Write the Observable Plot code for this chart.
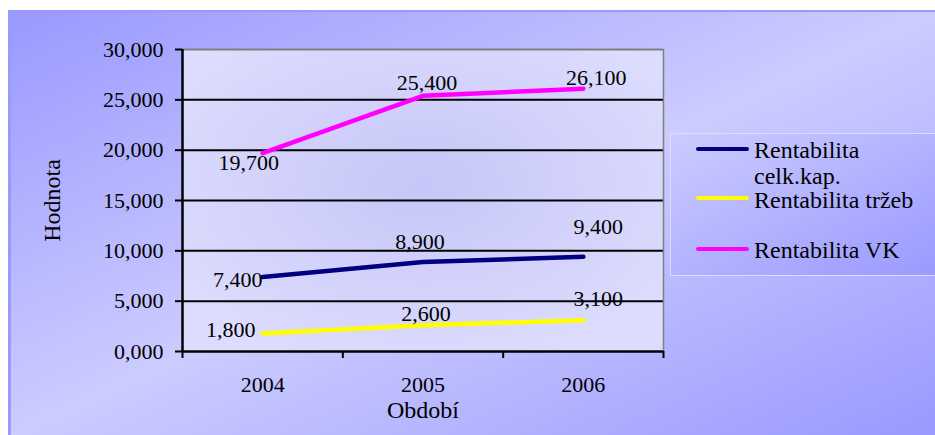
<!DOCTYPE html>
<html><head><meta charset="utf-8">
<script src="https://cdn.jsdelivr.net/npm/d3@7"></script>
<script src="https://cdn.jsdelivr.net/npm/@observablehq/plot@0.6"></script>
<style>
html,body{margin:0;padding:0;background:#fff;}
#wrap{position:relative;width:935px;height:435px;overflow:hidden;font-family:"Liberation Serif","Times New Roman",Tinos,"DejaVu Serif",serif;color:#000;}
#bg{position:absolute;left:8px;top:10px;right:0;bottom:0;background:linear-gradient(to bottom right,#9999ff 0%,#ccccff 50%,#9999ff 100%);border-left:3px solid #9999ff;border-top:2px solid #9999ff;}
#chart{position:absolute;left:0;top:0;}
#legend{position:absolute;left:670px;top:133px;width:270px;height:141px;background:linear-gradient(to bottom right,#ccccff 0%,#9999ff 100%);border:1px solid #dcdcff;}
.sw{position:absolute;width:53px;height:4px;border-radius:2px;}
.lt{position:absolute;font-size:24px;line-height:26px;white-space:nowrap;}
</style></head>
<body>
<svg width="0" height="0" style="position:absolute">
  <defs>
    <radialGradient id="pg" cx="0.5" cy="0.45" r="0.6">
      <stop offset="0" stop-color="#c6c6f8"/>
      <stop offset="1" stop-color="#dcdcfe"/>
    </radialGradient>
  </defs>
</svg>
<div id="wrap"><div id="bg"></div><div id="chart"></div><div id="legend"></div></div>
<script>
const years = ["2004", "2005", "2006"];
const seriesNames = ["Rentabilita celk.kap.", "Rentabilita tržeb", "Rentabilita VK"];
const legendLines = [["Rentabilita", "celk.kap."], ["Rentabilita tržeb"], ["Rentabilita VK"]];
const celkKap = [7.4, 8.9, 9.4];
const trzeb = [1.8, 2.6, 3.1];
const vk = [19.7, 25.4, 26.1];
const yTicks = [0, 5, 10, 15, 20, 25, 30];
const colors = ["#000080", "#ffff00", "#ff00ff"];

const seriesValues = [celkKap, trzeb, vk];
const data = seriesNames.flatMap((s, si) =>
  years.map((yr, i) => ({series: s, si, i, x: i + 0.5, year: yr, value: seriesValues[si][i]})));

// label placement offsets (px) per series / point
const offsets = [
  [[-25, 3], [-3, -20], [15, -30]],
  [[-32, -3], [3, -11], [15, -21]],
  [[-14, 10], [4, -13], [13, -11]]
];
const fmt = d => d3.format(".3f")(d).replace(".", ",");
const font = '"Liberation Serif","Times New Roman",Tinos,"DejaVu Serif",serif';

const labelMarks = data.map(d => Plot.text([d], {
  x: "x", y: "value", text: r => fmt(r.value),
  dx: offsets[d.si][d.i][0], dy: offsets[d.si][d.i][1],
  fontSize: 22, fill: "#000"
}));

const chart = Plot.plot({
  width: 935, height: 435,
  marginLeft: 182, marginRight: 272, marginTop: 49, marginBottom: 84,
  style: {background: "transparent", fontFamily: font, fontSize: "22px", color: "#000", overflow: "visible"},
  x: {type: "linear", domain: [0, 3], label: null},
  y: {domain: [0, 30], label: null},
  color: {domain: seriesNames, range: colors},
  marks: [
    Plot.frame({fill: "url(#pg)", stroke: "none"}),
    Plot.ruleY([5, 10, 15, 20, 25], {stroke: "#000", strokeWidth: 2}),
    Plot.ruleY([30], {stroke: "#808080", strokeWidth: 2}),
    Plot.ruleX([3], {stroke: "#808080", strokeWidth: 1.5}),
    Plot.axisY({ticks: yTicks, tickFormat: fmt, tickSize: 7, tickPadding: 12, fontSize: 22, strokeWidth: 2, stroke: "#000"}),
    Plot.axisX({ticks: [0, 1, 2, 3], tickFormat: () => "", tickSize: 7, strokeWidth: 2, stroke: "#000"}),
    Plot.axisX({ticks: [0.5, 1.5, 2.5], tickFormat: d => years[d - 0.5], tickSize: 0, tickPadding: 25, fontSize: 22}),
    Plot.ruleY([0], {stroke: "#000", strokeWidth: 2.5}),
    Plot.ruleX([0], {stroke: "#000", strokeWidth: 2.5}),
    Plot.line(data, {x: "x", y: "value", z: "series", stroke: "series", strokeWidth: 4.5, strokeLinecap: "round", strokeLinejoin: "round"}),
    ...labelMarks,
    Plot.text(["Období"], {frameAnchor: "bottom", dy: 66, fontSize: 24, fill: "#000"}),
    Plot.text(["Hodnota"], {frameAnchor: "left", textAnchor: "middle", dx: -130, rotate: -90, fontSize: 24, fill: "#000"})
  ]
});
document.getElementById("chart").appendChild(chart);

const legend = document.getElementById("legend");
const lineY = [15, 64, 115];
const textTop = [3, 53, 103];
seriesNames.forEach((s, si) => {
  const sw = document.createElement("div");
  sw.className = "sw";
  sw.style.left = "25px";
  sw.style.top = (lineY[si] - 2) + "px";
  sw.style.background = colors[si];
  legend.appendChild(sw);
  const t = document.createElement("div");
  t.className = "lt";
  t.style.left = "83px";
  t.style.top = textTop[si] + "px";
  t.innerHTML = legendLines[si].join("<br>");
  legend.appendChild(t);
});
</script>
</body></html>
